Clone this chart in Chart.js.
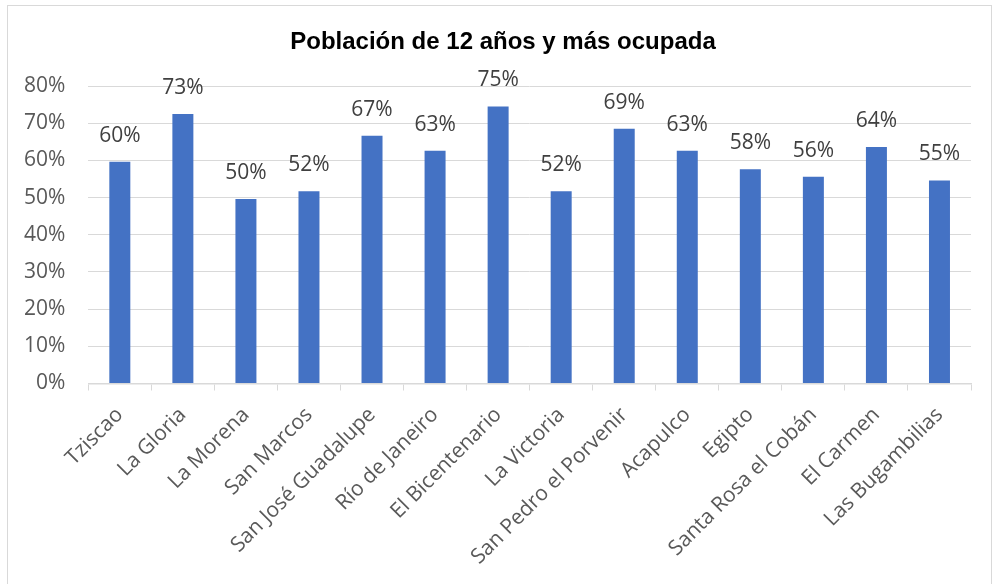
<!DOCTYPE html>
<html lang="es">
<head>
<meta charset="utf-8">
<title>Población de 12 años y más ocupada</title>
<script src="https://cdn.jsdelivr.net/npm/chart.js@4/dist/chart.umd.min.js"></script>
<style>
  html, body { margin: 0; padding: 0; background: #fff; overflow: hidden; }
  #wrap  { position: relative; width: 1001px; height: 584px; }
  #frame { position: absolute; left: 7px; top: 5px; width: 985px; height: 620px;
           border: 1px solid #d9d9d9; box-sizing: border-box; }
  #chart { position: absolute; left: 0; top: 0; }
</style>
</head>
<body>
<div id="wrap">
  <div id="frame"></div>
  <canvas id="chart" width="1001" height="584"></canvas>
</div>
<script>
  // ── 資料 ───────────────────────────────────────────────
  const TITLE = "Población de 12 años y más ocupada";

  const LOCALIDADES = [
    "Tziscao", "La Gloria", "La Morena", "San Marcos", "San José Guadalupe",
    "Río de Janeiro", "El Bicentenario", "La Victoria", "San Pedro el Porvenir",
    "Acapulco", "Egipto", "Santa Rosa el Cobán", "El Carmen", "Las Bugambilias",
  ];

  // % ocupada
  const OCUPADA = [
    59.6, 72.5, 49.6, 51.7, 66.6,
    62.6, 74.5, 51.7, 68.5,
    62.6, 57.6, 55.6, 63.6, 54.6,
  ];

  const Y_MAX  = 80;
  const Y_STEP = 10;

  const FONT      = "'Open Sans', 'Noto Sans', sans-serif";
  const FONT_SIZE = 21;
  const BAR_COLOR = "#4472C4";
  const GRID      = "#d9d9d9";
  const TEXT      = "#595959";

  // ── plugins ────────────────────────────────────────────
  const titlePlugin = {
    id: "excelTitle",
    afterDraw(chart) {
      const ctx = chart.ctx;
      ctx.save();
      ctx.font = "bold 24px 'Liberation Sans', Arial, sans-serif";
      ctx.fillStyle = "#000";
      ctx.textAlign = "center";
      ctx.textBaseline = "alphabetic";
      ctx.fillText(TITLE, 503, 49);
      ctx.restore();
    },
  };

  const valueLabels = {
    id: "valueLabels",
    afterDatasetsDraw(chart) {
      const ctx  = chart.ctx;
      const meta = chart.getDatasetMeta(0);
      ctx.save();
      ctx.font = `${FONT_SIZE}px ${FONT}`;
      ctx.fillStyle = "#404040";
      ctx.textAlign = "center";
      ctx.textBaseline = "alphabetic";
      meta.data.forEach((bar, i) => {
        const v = chart.data.datasets[0].data[i];
        ctx.fillText(`${Math.round(v)}%`, bar.x, bar.y - 20);
      });
      ctx.restore();
    },
  };

  // ── gráfica ────────────────────────────────────────────
  new Chart(document.getElementById("chart").getContext("2d"), {
    type: "bar",
    data: {
      labels: LOCALIDADES,
      datasets: [{
        data: OCUPADA,
        backgroundColor: BAR_COLOR,
        barPercentage: 0.333,
        categoryPercentage: 1,
      }],
    },
    options: {
      responsive: false,
      animation: false,
      layout: { padding: { top: 86, right: 30, left: 0, bottom: 0 } },
      plugins: {
        legend:  { display: false },
        tooltip: { enabled: false },
        title:   { display: false },
      },
      scales: {
        x: {
          grid: {
            offset: true,
            drawOnChartArea: false,
            drawTicks: true,
            tickLength: 7,
            color: GRID,
          },
          border: { display: true, color: GRID, width: 1.5 },
          ticks: {
            minRotation: 45,
            maxRotation: 45,
            autoSkip: false,
            padding: 12,
            color: TEXT,
            font: { family: FONT, size: FONT_SIZE },
          },
          afterFit: s => { s.height = 200.5; },
        },
        y: {
          min: 0,
          max: Y_MAX,
          grid: { color: GRID, drawTicks: false, lineWidth: 1 },
          border: { display: false },
          ticks: {
            stepSize: Y_STEP,
            padding: 23,
            color: TEXT,
            font: { family: FONT, size: FONT_SIZE },
            callback: v => `${v}%`,
          },
          afterFit: s => { s.width = 88.3; },
        },
      },
    },
    plugins: [titlePlugin, valueLabels],
  });
</script>
</body>
</html>
